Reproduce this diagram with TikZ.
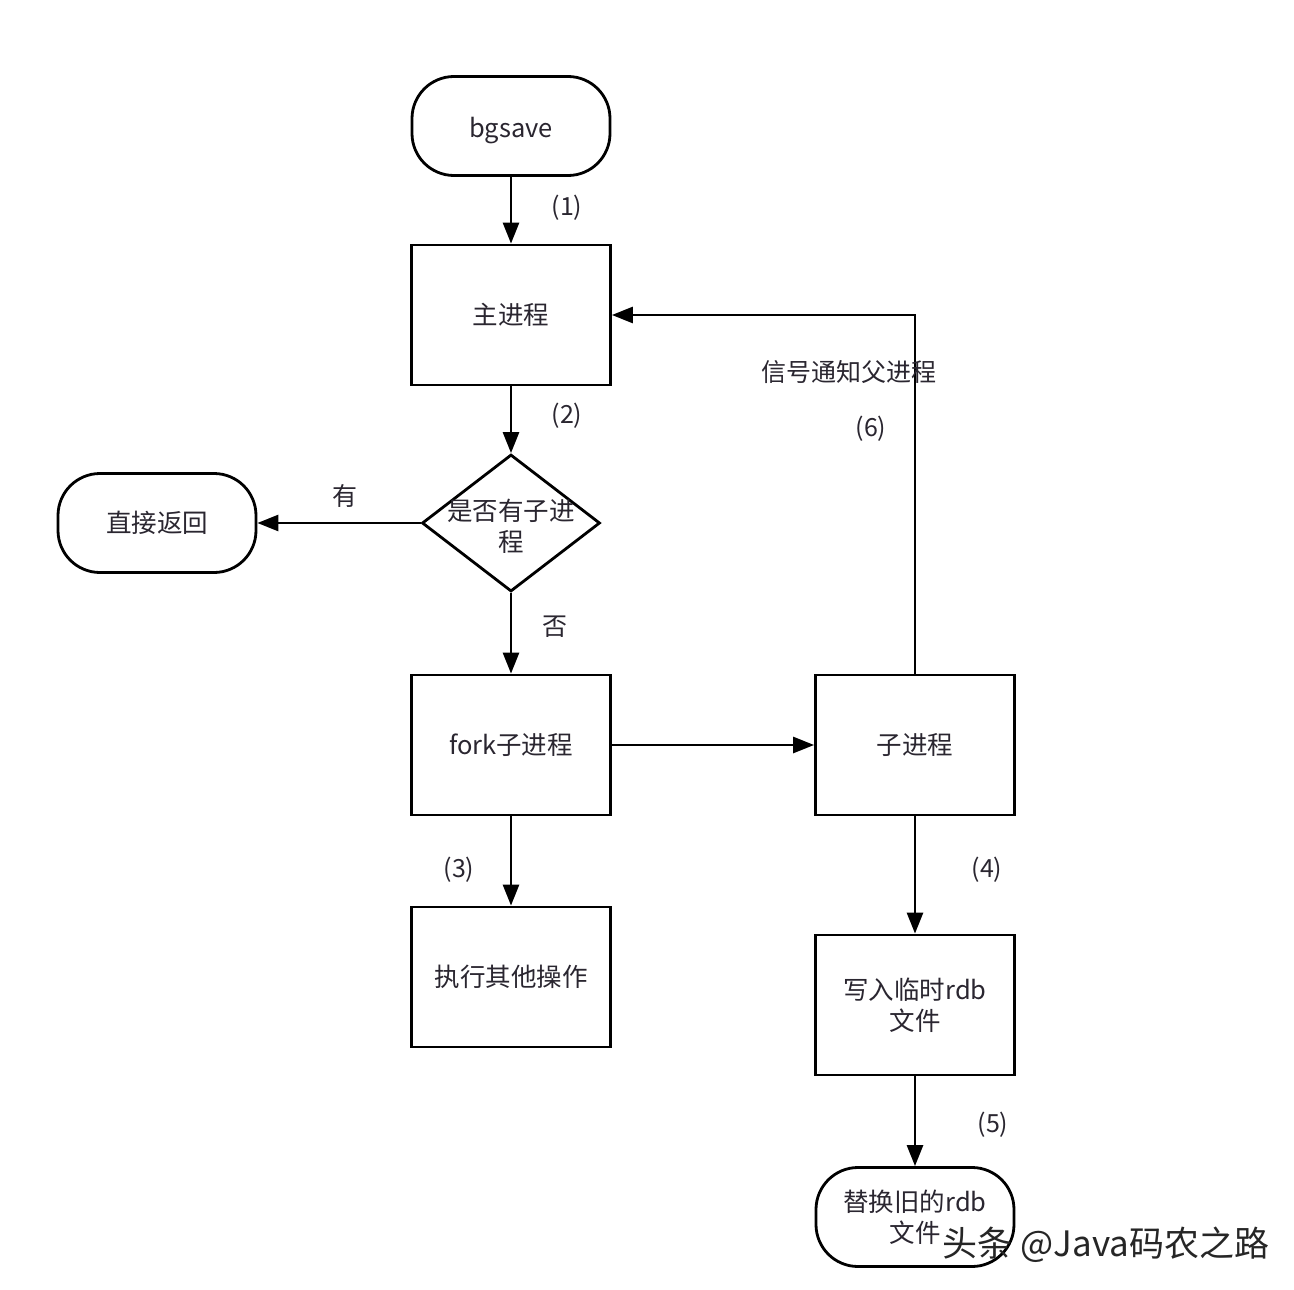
\documentclass[tikz,border=0pt]{standalone}
\usepackage{fontspec}
\setmainfont{Noto Sans CJK SC}
\usetikzlibrary{arrows.meta,shapes.geometric}
\definecolor{txt}{HTML}{2A2630}
\begin{document}
\begin{tikzpicture}[x=1pt,y=-1pt,
  every node/.style={font=\fontsize{25.5}{31}\selectfont, text=txt},
  boxn/.style={draw=black, line width=2.8pt, minimum width=199pt, minimum height=140pt, align=center, inner sep=0pt},
  pill/.style={draw=black, line width=2.8pt, rounded corners=42pt, minimum width=198pt, minimum height=99pt, align=center, inner sep=0pt},
  conn/.style={draw=black, line width=2.8pt, -{Triangle[length=21pt,width=16pt]}},
  lab/.style={font=\fontsize{25}{28}\selectfont, text=txt}]
\useasboundingbox (0,0) rectangle (1294,1290);
\fill[white] (0,0) rectangle (1294,1290);

\node[pill, text height=24pt, text depth=2pt] (bg) at (511,126) {bgsave};
\node[boxn] (main) at (511,315) {主进程};
\node[draw=black, line width=2.8pt, shape=diamond, minimum width=178pt, minimum height=137pt, inner sep=0pt] (dia) at (511,523) {};
\node[align=center, inner sep=0pt] (diatext) at (511,526) {是否有子进\\程};
\node[pill] (ret) at (157,523) {直接返回};
\node[boxn] (fork) at (511,745) {fork子进程};
\node[boxn] (child) at (915,745) {子进程};
\node[boxn] (exec) at (511,977) {执行其他操作};
\node[boxn] (write) at (915,1005) {写入临时rdb\\文件};
\node[pill] (repl) at (915,1217) {替换旧的rdb\\文件};

\draw[conn] (bg.south) -- (main.north);
\draw[conn] (main.south) -- (dia.north);
\draw[conn] (dia.west) -- (ret.east);
\draw[conn] (dia.south) -- (fork.north);
\draw[conn] (fork.east) -- (child.west);
\draw[conn] (fork.south) -- (exec.north);
\draw[conn] (child.south) -- (write.north);
\draw[conn] (write.south) -- (repl.north);
\draw[conn] (child.north) |- (main.east);

\node[lab] (l1) at (567,208) {(1)};
\node[lab] (l2) at (567,416) {(2)};
\node[lab] (lyes) at (345,496) {有};
\node[lab] (lno) at (555,627) {否};
\node[lab] (l3) at (459,870) {(3)};
\node[lab] (l4) at (987,870) {(4)};
\node[lab] (l5) at (993,1125) {(5)};
\node[lab] (l6) at (871,429) {(6)};
\node[lab] (lsig) at (849,372) {信号通知父进程};

\node[font=\fontsize{35}{40}\selectfont, text=black!85] (wm) at (1106,1245) {头条 @Java码农之路};
\end{tikzpicture}
\end{document}
